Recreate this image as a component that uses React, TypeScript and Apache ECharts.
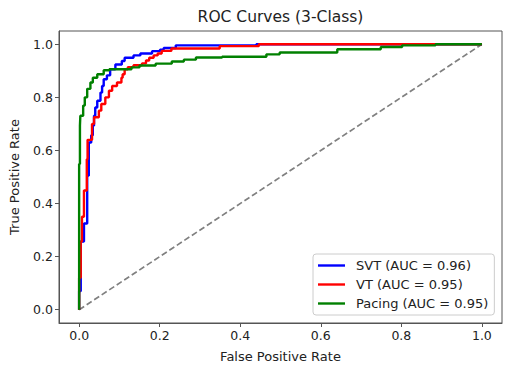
import React, { useEffect, useRef } from "react";
import * as echarts from "echarts";

const seriesNames = ["SVT (AUC = 0.96)", "VT (AUC = 0.95)", "Pacing (AUC = 0.95)"];
const seriesColors = ["#0000ff", "#ff0000", "#008000"];
const tickValues = [0, 0.2, 0.4, 0.6, 0.8, 1.0];

// ROC corner points [fpr, tpr]
const svtRoc: number[][] = [
  [0, 0], [0, 0.07], [0.004, 0.07], [0.004, 0.257], [0.012, 0.257], [0.012, 0.325],
  [0.02, 0.325], [0.02, 0.505], [0.024, 0.505], [0.024, 0.63], [0.03, 0.63], [0.03, 0.657],
  [0.034, 0.657], [0.034, 0.694], [0.037, 0.694], [0.037, 0.731], [0.04, 0.731], [0.04, 0.762],
  [0.045, 0.762], [0.045, 0.787], [0.053, 0.787], [0.053, 0.818], [0.057, 0.818], [0.057, 0.843],
  [0.061, 0.843], [0.061, 0.868], [0.069, 0.868], [0.069, 0.883], [0.077, 0.883], [0.077, 0.906],
  [0.09, 0.906], [0.09, 0.924], [0.106, 0.924], [0.106, 0.937], [0.113, 0.937], [0.113, 0.949],
  [0.135, 0.949], [0.135, 0.958], [0.152, 0.958], [0.152, 0.965], [0.181, 0.965], [0.181, 0.974],
  [0.201, 0.974], [0.201, 0.98], [0.21, 0.98], [0.21, 0.986], [0.24, 0.986], [0.24, 0.996],
  [0.44, 0.996], [0.44, 1.0], [1.0, 1.0],
];

const vtRoc: number[][] = [
  [0, 0], [0, 0.12], [0.004, 0.12], [0.004, 0.257], [0.007, 0.257], [0.007, 0.35],
  [0.012, 0.35], [0.012, 0.449], [0.019, 0.449], [0.019, 0.567], [0.021, 0.567], [0.021, 0.64],
  [0.032, 0.64], [0.032, 0.7], [0.037, 0.7], [0.037, 0.725], [0.049, 0.725], [0.049, 0.75],
  [0.055, 0.75], [0.055, 0.775], [0.065, 0.775], [0.065, 0.8], [0.074, 0.8], [0.074, 0.825],
  [0.082, 0.825], [0.082, 0.843], [0.094, 0.843], [0.094, 0.856], [0.105, 0.856], [0.105, 0.874],
  [0.108, 0.874], [0.108, 0.887], [0.113, 0.887], [0.113, 0.906], [0.121, 0.906], [0.121, 0.914],
  [0.135, 0.914], [0.135, 0.921], [0.156, 0.921], [0.156, 0.928], [0.166, 0.928], [0.166, 0.939],
  [0.174, 0.939], [0.174, 0.949], [0.185, 0.949], [0.185, 0.958], [0.195, 0.958], [0.195, 0.965],
  [0.205, 0.965], [0.205, 0.975], [0.229, 0.975], [0.229, 0.984], [0.349, 0.984], [0.349, 0.993],
  [0.446, 0.993], [0.446, 1.0], [1.0, 1.0],
];

const pacingRoc: number[][] = [
  [0, 0], [0, 0.549], [0.002, 0.549], [0.002, 0.694], [0.003, 0.694], [0.003, 0.731],
  [0.01, 0.731], [0.01, 0.769], [0.014, 0.769], [0.014, 0.8], [0.02, 0.8], [0.02, 0.832],
  [0.028, 0.832], [0.028, 0.856], [0.034, 0.856], [0.034, 0.874], [0.045, 0.874], [0.045, 0.887],
  [0.061, 0.887], [0.061, 0.902], [0.075, 0.902], [0.075, 0.906], [0.13, 0.906], [0.13, 0.913],
  [0.15, 0.913], [0.15, 0.92], [0.19, 0.92], [0.19, 0.927], [0.23, 0.927], [0.23, 0.935],
  [0.26, 0.935], [0.26, 0.942], [0.29, 0.942], [0.29, 0.95], [0.355, 0.95], [0.355, 0.953],
  [0.465, 0.953], [0.465, 0.962], [0.498, 0.962], [0.498, 0.969], [0.641, 0.969], [0.641, 0.981],
  [0.749, 0.981], [0.749, 0.99], [0.802, 0.99], [0.802, 0.996], [0.885, 0.996], [0.885, 1.0],
  [1.0, 1.0],
];

const chanceLine: number[][] = [[0, 0], [1, 1]];

const FONT = "DejaVu Sans";

export default function App() {
  const ref = useRef<HTMLDivElement>(null);
  useEffect(() => {
    if (!ref.current) return;
    const chart = echarts.init(ref.current, undefined, { renderer: "svg" });
    const rocs = [svtRoc, vtRoc, pacingRoc];
    const axisCommon = {
      type: "value" as const,
      min: -0.05,
      max: 1.05,
      splitLine: { show: false },
      axisLine: { show: true, onZero: false, lineStyle: { color: "#555", width: 1 } },
      axisTick: { show: true, length: 4, customValues: tickValues, lineStyle: { color: "#555" } },
      axisLabel: {
        customValues: tickValues,
        formatter: (v: number) => v.toFixed(1),
        color: "#222",
        fontFamily: FONT,
        fontSize: 12.5,
        margin: 6,
      },
      nameLocation: "middle" as const,
      nameTextStyle: { color: "#222", fontFamily: FONT, fontSize: 13 },
    };
    chart.setOption({
      animation: false,
      backgroundColor: "#ffffff",
      graphic: [
        {
          type: "text",
          x: 280.5,
          y: 17,
          style: {
            text: "ROC Curves (3-Class)",
            fill: "#222",
            font: `15.5px "${FONT}"`,
            textAlign: "center",
            textVerticalAlign: "middle",
          },
        },
      ],
      grid: {
        left: 59,
        right: 10,
        top: 31,
        bottom: 52,
        show: true,
        borderColor: "#555",
        borderWidth: 1,
        containLabel: false,
        outerBoundsMode: "none",
      },
      xAxis: { ...axisCommon, name: "False Positive Rate", nameGap: 27 },
      yAxis: { ...axisCommon, name: "True Positive Rate", nameGap: 38 },
      legend: {
        data: seriesNames,
        orient: "vertical",
        left: 313,
        top: 254,
        icon: "rect",
        itemWidth: 27,
        itemHeight: 2.4,
        itemGap: 6,
        padding: [5, 6, 5, 5],
        borderColor: "#cccccc",
        borderWidth: 1,
        borderRadius: 3,
        backgroundColor: "rgba(255,255,255,0.8)",
        textStyle: {
          color: "#222",
          fontFamily: FONT,
          fontSize: 13,
          padding: [0, 0, 0, 6],
        },
      },
      series: [
        ...rocs.map((d, i) => ({
          type: "line",
          name: seriesNames[i],
          data: d,
          showSymbol: false,
          symbol: "none",
          color: seriesColors[i],
          lineStyle: { color: seriesColors[i], width: 2.4 },
          z: 2 + i,
        })),
        {
          type: "line",
          name: "chance",
          data: chanceLine,
          showSymbol: false,
          symbol: "none",
          color: "#808080",
          lineStyle: { color: "#808080", width: 1.7, type: [6, 3] },
          z: 1,
        },
      ],
    });
    return () => chart.dispose();
  }, []);
  return (
    <div
      ref={ref}
      style={{ position: "fixed", left: 0, top: 0, width: 512, height: 375 }}
    />
  );
}
